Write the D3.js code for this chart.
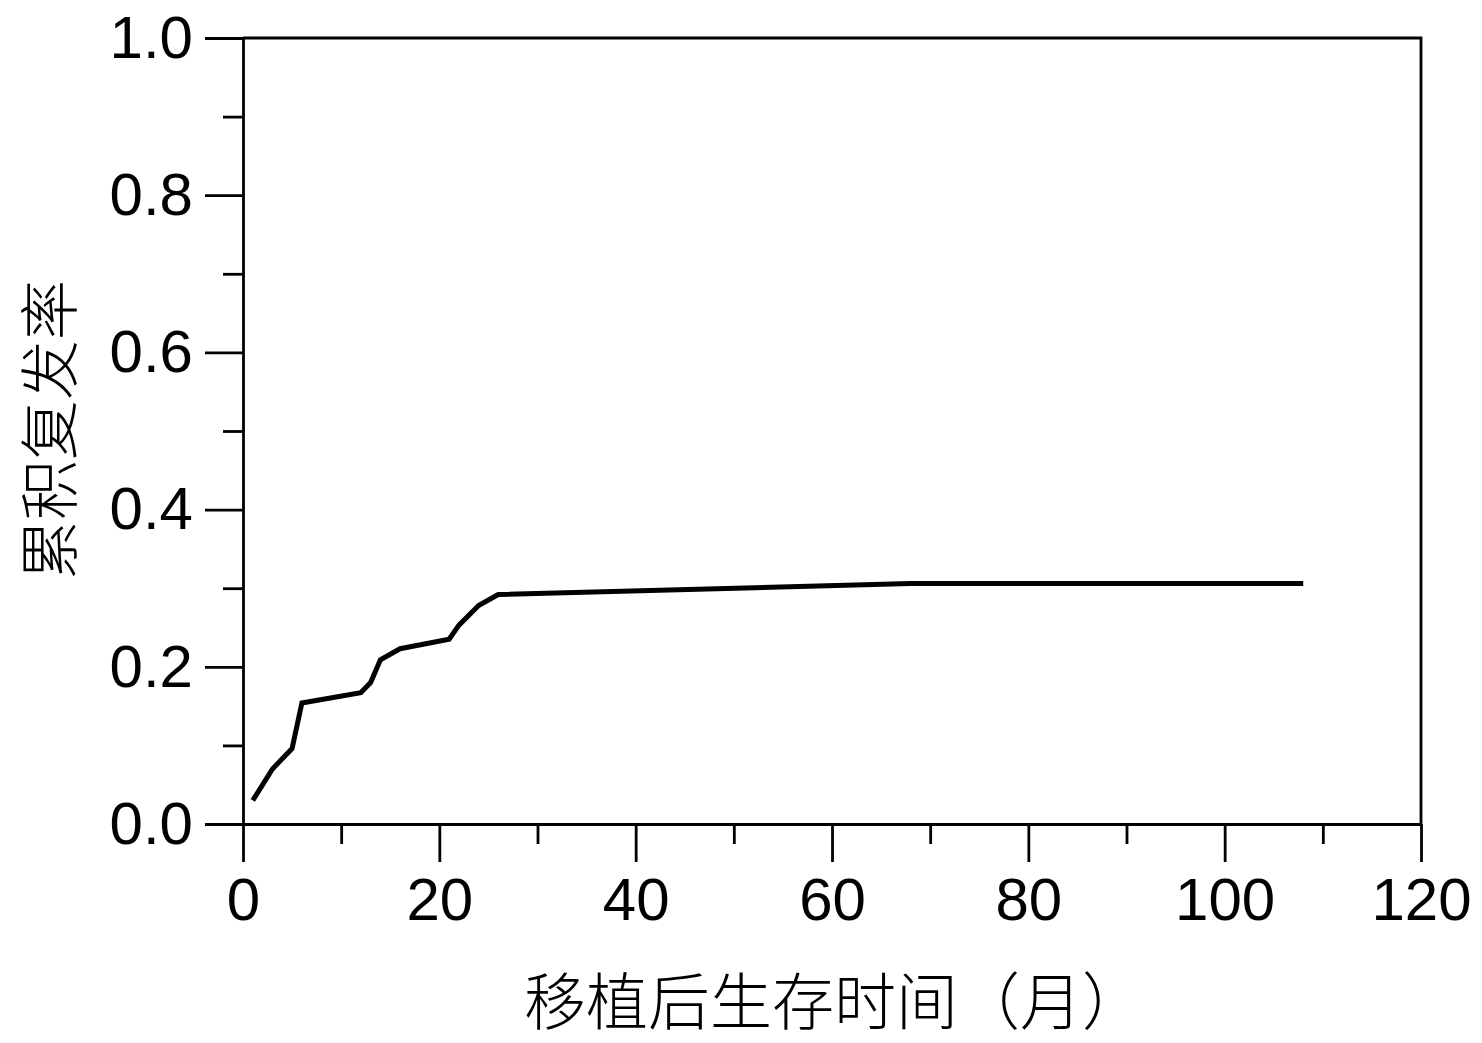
<!DOCTYPE html>
<html><head><meta charset="utf-8">
<script src="https://cdn.jsdelivr.net/npm/d3@7"></script>
<style>body{margin:0;background:#fff}svg{display:block}</style>
</head><body>
<svg id="c" width="1482" height="1043"></svg>
<script>
const months = [1, 3, 5, 6, 12, 13, 14, 16, 21, 22, 24, 26, 68, 108];
const incidence = [0.030, 0.070, 0.096, 0.154, 0.167, 0.180, 0.209, 0.223, 0.235, 0.253, 0.278, 0.292, 0.306, 0.306];
const xTicks = [0, 20, 40, 60, 80, 100, 120];
const yTicks = [0.0, 0.2, 0.4, 0.6, 0.8, 1.0];
const xTitle = "移植后生存时间（月）";
const yTitle = "累积复发率";

const svg = d3.select("#c");
const L = 243, R = 1421, T = 38, B = 824;
const x = d3.scaleLinear().domain([0, 120]).range([L, R]);
const y = d3.scaleLinear().domain([0, 1]).range([B, T]);
const numFont = "'Liberation Sans', Arial, sans-serif";
const cjkFont = "'Noto Sans CJK SC', sans-serif";

// minor ticks
const xMinor = d3.range(10, 120, 20);
const yMinor = d3.range(0.1, 1.0, 0.2);
const xm = svg.append("g").attr("transform", `translate(0,${B})`)
  .call(d3.axisBottom(x).tickValues(xMinor).tickSize(20).tickFormat(""));
const ym = svg.append("g").attr("transform", `translate(${L},0)`)
  .call(d3.axisLeft(y).tickValues(yMinor).tickSize(20).tickFormat(""));
[xm, ym].forEach(g => { g.select(".domain").remove(); g.selectAll("line").attr("stroke", "#000").attr("stroke-width", 2.8); });

// major axes
const xa = svg.append("g").attr("transform", `translate(0,${B})`)
  .call(d3.axisBottom(x).tickValues(xTicks).tickSize(38).tickSizeOuter(0).tickPadding(15).tickFormat(d3.format("d")));
const ya = svg.append("g").attr("transform", `translate(${L},0)`)
  .call(d3.axisLeft(y).tickValues(yTicks).tickSize(38).tickSizeOuter(0).tickPadding(12).tickFormat(d3.format(".1f")));
[xa, ya].forEach(g => {
  g.select(".domain").attr("stroke", "#000").attr("stroke-width", 2.8);
  g.selectAll("line").attr("stroke", "#000").attr("stroke-width", 2.8);
  g.selectAll("text").attr("fill", "#000").style("font-family", numFont).style("font-size", "60px");
});

// frame top & right
svg.append("path").attr("d", `M${L},${T}H${R}V${B}`).attr("fill", "none").attr("stroke", "#000").attr("stroke-width", 2.8);

// curve
const line = d3.line().x((d, i) => x(months[i])).y(d => y(d));
svg.append("path").datum(incidence).attr("d", line).attr("fill", "none")
  .attr("stroke", "#000").attr("stroke-width", 5).attr("stroke-linejoin", "miter");

// titles
svg.append("text").attr("x", 834).attr("y", 1025).attr("text-anchor", "middle")
  .style("font-family", cjkFont).style("font-size", "62px").style("font-weight", 300).attr("fill", "#000").text(xTitle);
svg.append("text").attr("transform", `translate(72,430)rotate(-90)`).attr("text-anchor", "middle")
  .style("font-family", cjkFont).style("font-size", "60px").style("font-weight", 300).attr("fill", "#000").text(yTitle);
</script>
</body></html>
